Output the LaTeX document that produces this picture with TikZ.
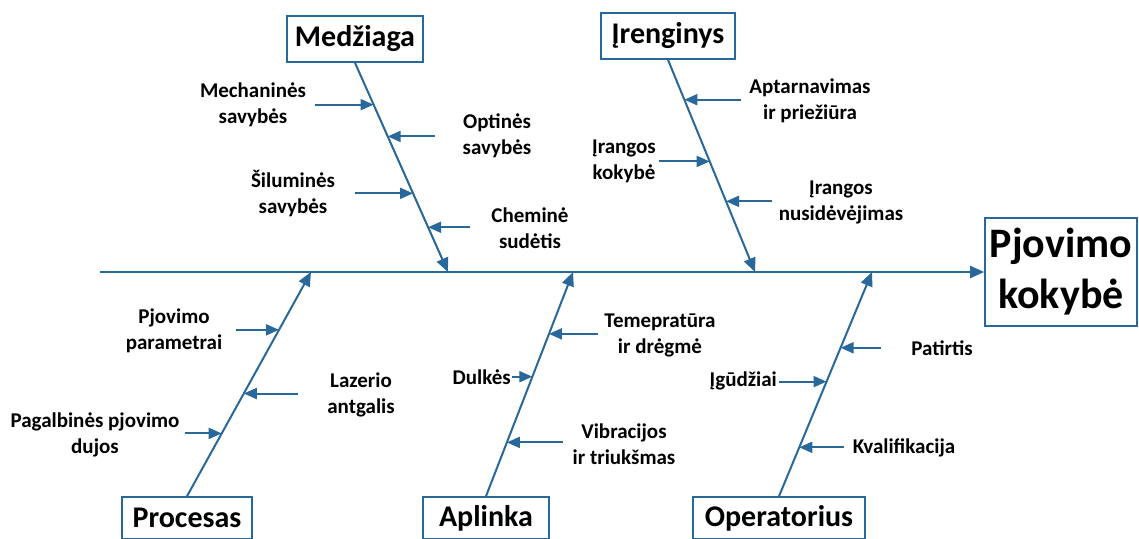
\documentclass[tikz,border=0pt]{standalone}
\usepackage{fontspec}
\setmainfont{Carlito}
\usetikzlibrary{arrows.meta}
\definecolor{bonecol}{RGB}{40,104,154}

\begin{document}
\begin{tikzpicture}[x=1pt, y=-1pt,
    catbox/.style={draw=bonecol, line width=1.6pt, inner sep=0pt, font=\bfseries\fontsize{30}{36}\selectfont},
    cause/.style={align=center, inner sep=0pt, font=\bfseries\fontsize{21}{26}\selectfont},
    bone/.style={draw=bonecol, line width=2pt, -{Triangle[length=14pt,width=12pt]}},
    rib/.style={draw=bonecol, line width=2pt, -{Triangle[length=13pt,width=11pt]}}]
    \useasboundingbox (0,0) rectangle (1139,538);
    % effect and categories
    \node [catbox, minimum width=152pt, minimum height=108pt, align=center, font=\bfseries\fontsize{42}{51}\selectfont] (eff) at (1061,272) {Pjovimo\\kokybė};
    \node [catbox, minimum width=136pt, minimum height=46pt] (med) at (355,39) {Medžiaga};
    \node [catbox, minimum width=134pt, minimum height=46pt] (ire) at (668,36) {Įrenginys};
    \node [catbox, minimum width=130pt, minimum height=42pt] (pro) at (187,518) {Procesas};
    \node [catbox, minimum width=126pt, minimum height=42pt] (apl) at (486,518) {Aplinka};
    \node [catbox, minimum width=172pt, minimum height=42pt] (ope) at (779,518) {Operatorius};
    \coordinate (tail) at (100,272);
    \coordinate (medT) at (448,272);
    \coordinate (ireT) at (755,272);
    \coordinate (proT) at (311,272);
    \coordinate (aplT) at (573,272);
    \coordinate (opeT) at (872,272);
    % spine and bones
    \draw [bone] (tail) -- (eff.west);
    \draw [bone] (med.south) -- coordinate[pos=.2] (m1) coordinate[pos=.352] (m2) coordinate[pos=.624] (m3) coordinate[pos=.786] (m4) (medT);
    \draw [bone] (ire.south) -- coordinate[pos=.188] (i1) coordinate[pos=.479] (i2) coordinate[pos=.667] (i3) (ireT);
    \draw [bone] (pro.north) -- coordinate[pos=.742] (p1) coordinate[pos=.458] (p2) coordinate[pos=.28] (p3) (proT);
    \draw [bone] (apl.north) -- coordinate[pos=.724] (a1) coordinate[pos=.533] (a2) coordinate[pos=.24] (a3) (aplT);
    \draw [bone] (ope.north) -- coordinate[pos=.662] (o1) coordinate[pos=.511] (o2) coordinate[pos=.218] (o3) (opeT);
    % causes
    \draw [rib] ([xshift=-59pt]m1) -- (m1);
    \draw [rib] ([xshift=47pt]m2) -- (m2);
    \draw [rib] ([xshift=-58pt]m3) -- (m3);
    \draw [rib] ([xshift=42pt]m4) -- (m4);
    \draw [rib] ([xshift=57pt]i1) -- (i1);
    \draw [rib] ([xshift=-51pt]i2) -- (i2);
    \draw [rib] ([xshift=46pt]i3) -- (i3);
    \draw [rib] ([xshift=-43pt]p1) -- (p1);
    \draw [rib] ([xshift=54pt]p2) -- (p2);
    \draw [rib] ([xshift=-37pt]p3) -- (p3);
    \draw [rib] ([xshift=49pt]a1) -- (a1);
    \draw [rib] ([xshift=-20pt]a2) -- (a2);
    \draw [rib] ([xshift=56pt]a3) -- (a3);
    \draw [rib] ([xshift=40pt]o1) -- (o1);
    \draw [rib] ([xshift=-48pt]o2) -- (o2);
    \draw [rib] ([xshift=45pt]o3) -- (o3);
    \node [cause] (mech) at (253,105) {Mechaninės\\savybės};
    \node [cause] (opt) at (497,136) {Optinės\\savybės};
    \node [cause] (sil) at (293,194) {Šiluminės\\savybės};
    \node [cause] (chem) at (530,228) {Cheminė\\sudėtis};
    \node [cause] (apt) at (810,101) {Aptarnavimas\\ir priežiūra};
    \node [cause] (kok) at (624,161) {Įrangos\\kokybė};
    \node [cause] (nus) at (841,202) {Įrangos\\nusidėvėjimas};
    \node [cause] (par) at (174,331) {Pjovimo\\parametrai};
    \node [cause] (laz) at (361,395) {Lazerio\\antgalis};
    \node [cause] (duj) at (95,435) {Pagalbinės pjovimo\\dujos};
    \node [cause] (tem) at (660,335) {Temepratūra\\ir drėgmė};
    \node [cause, anchor=east] (dul) at (511,377) {Dulkės};
    \node [cause] (vib) at (624,444) {Vibracijos\\ir triukšmas};
    \node [cause] (pat) at (942,348) {Patirtis};
    \node [cause, anchor=east] (igu) at (777,381) {Įgūdžiai};
    \node [cause] (kva) at (904,448) {Kvalifikacija};
\end{tikzpicture}
\end{document}
